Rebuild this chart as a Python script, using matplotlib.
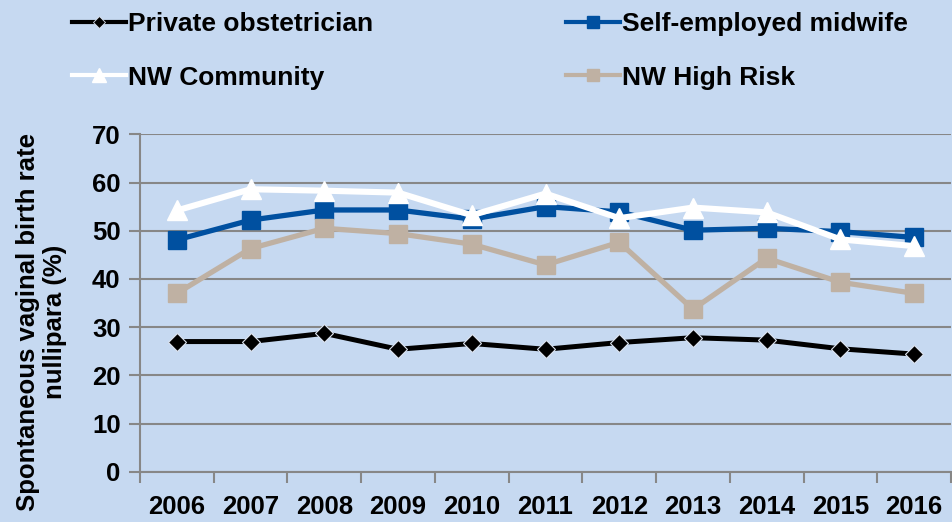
import matplotlib
matplotlib.use("Agg")
import matplotlib.pyplot as plt
from matplotlib.lines import Line2D
import numpy as np

years = ["2006", "2007", "2008", "2009", "2010", "2011", "2012", "2013", "2014", "2015", "2016"]
private_obstetrician = [27.0, 27.0, 28.7, 25.4, 26.6, 25.4, 26.8, 27.8, 27.3, 25.5, 24.4]
self_employed_midwife = [48.1, 52.2, 54.3, 54.3, 52.4, 55.0, 53.9, 50.1, 50.5, 49.8, 48.6]
nw_community = [54.2, 58.6, 58.3, 57.9, 53.2, 57.7, 52.6, 54.8, 53.8, 48.2, 46.8]
nw_high_risk = [37.0, 46.3, 50.5, 49.4, 47.2, 42.9, 47.6, 33.7, 44.3, 39.3, 37.0]
yticks = [0, 10, 20, 30, 40, 50, 60, 70]

bg = "#C6D9F1"
grid_c = "#878787"
c_priv = "black"
c_mid = "#0050A0"
c_com = "white"
c_risk = "#BFB1A3"
FS = 18.5

plt.rcParams['font.family'] = ['Liberation Sans', 'DejaVu Sans']
plt.rcParams['font.weight'] = 'bold'

fig = plt.figure(figsize=(9.52, 5.22), dpi=100, facecolor=bg)
ax = fig.add_axes([140/952, 1-471.7/522, 811/952, (471.7-134.3)/522])
ax.set_facecolor(bg)

x = np.arange(len(years))
ax.plot(x, private_obstetrician, color=c_priv, lw=3.6, marker="D", ms=9,
        mfc=c_priv, mec="#DDE4F0", mew=0.8, zorder=3)
ax.plot(x, self_employed_midwife, color=c_mid, lw=3.8, marker="s", ms=13,
        mfc=c_mid, mec=c_mid, zorder=4)
ax.plot(x, nw_community, color=c_com, lw=4.4, marker="^", ms=15,
        mfc=c_com, mec=c_com, zorder=5)
ax.plot(x, nw_high_risk, color=c_risk, lw=3.8, marker="s", ms=13,
        mfc=c_risk, mec=c_risk, zorder=4)

ax.set_xlim(-0.5, len(years) - 0.5)
ax.set_ylim(0, 70)
ax.set_yticks(yticks)
ax.set_yticklabels([str(v) for v in yticks], fontsize=FS, fontweight='bold')
ax.set_xticks(x)
ax.set_xticklabels(years, fontsize=FS, fontweight='bold')
ax.set_xticks(np.arange(-0.5, len(years), 1.0), minor=True)
ax.tick_params(axis='x', which='major', length=0, pad=17)
ax.tick_params(axis='x', which='minor', length=8, color=grid_c, width=1.5, direction='out')
ax.tick_params(axis='y', length=8, color=grid_c, width=1.5, direction='out', pad=6)
ax.yaxis.grid(True, color=grid_c, lw=1.5, zorder=1)
ax.set_axisbelow(True)
for s in ["top", "right"]:
    ax.spines[s].set_visible(False)
for s in ["left", "bottom"]:
    ax.spines[s].set_color(grid_c)
    ax.spines[s].set_linewidth(1.5)

fig.text(0.044, 1-322/522, "Spontaneous vaginal birth rate\nnullipara (%)",
         rotation=90, ha='center', va='center', fontsize=FS, fontweight='bold',
         linespacing=1.15)

h_priv = Line2D([], [], color=c_priv, lw=3.0, marker="D", ms=6, mfc=c_priv, mec="#DDE4F0", mew=0.6)
h_mid = Line2D([], [], color=c_mid, lw=3.0, marker="s", ms=8.5, mfc=c_mid, mec=c_mid)
h_com = Line2D([], [], color=c_com, lw=3.0, marker="^", ms=9.5, mfc=c_com, mec=c_com)
h_risk = Line2D([], [], color=c_risk, lw=3.0, marker="s", ms=8.5, mfc=c_risk, mec=c_risk)

leg_kw = dict(loc='upper left', frameon=False, handlelength=2.05, handletextpad=0.08,
              labelspacing=1.12, borderpad=0, borderaxespad=0,
              prop={'weight': 'bold', 'size': 19})
leg1 = fig.legend(handles=[h_priv, h_com], labels=["Private obstetrician", "NW Community"],
                  bbox_to_anchor=(72/952, 1-12/522), **leg_kw)
leg2 = fig.legend(handles=[h_mid, h_risk], labels=["Self-employed midwife", "NW High Risk"],
                  bbox_to_anchor=(566/952, 1-12/522), **leg_kw)

fig.savefig("out.png", dpi=100, facecolor=bg)
